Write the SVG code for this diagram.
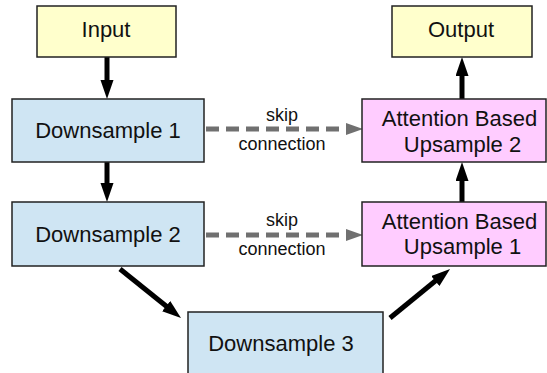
<svg xmlns="http://www.w3.org/2000/svg" width="547" height="373" viewBox="0 0 547 373">
<defs>
<style>
.box{stroke:#222;stroke-width:1.5}
.io{fill:#FFFFCC}
.down{fill:#CFE5F3}
.up{fill:#FFCCFF}
text{font-family:"Liberation Sans",Arial,sans-serif;fill:#111}
.t{font-size:22px;text-anchor:middle}
.l{font-size:18px;text-anchor:middle}
.arr{stroke:#000;stroke-width:5;fill:none;marker-end:url(#ah)}
.skip{stroke:#707070;stroke-width:5;fill:none;stroke-dasharray:13 7;marker-end:url(#gh)}
</style>
<marker id="ah" markerUnits="userSpaceOnUse" markerWidth="20" markerHeight="14" refX="9" refY="6.5" orient="auto">
<path d="M0,0 L19,6.5 L0,13 Z" fill="#000"/>
</marker>
<marker id="gh" markerUnits="userSpaceOnUse" markerWidth="18" markerHeight="13" refX="8" refY="6" orient="auto">
<path d="M0,0 L17,6 L0,12 Z" fill="#707070"/>
</marker>
</defs>
<g id="connectors">
<line class="arr" x1="107" y1="57" x2="107" y2="89"/>
<line class="arr" x1="107" y1="162" x2="107" y2="192"/>
<line class="arr" x1="120" y1="269" x2="173.2" y2="311.7"/>
<line class="arr" x1="390" y1="318" x2="442.3" y2="275.3"/>
<line class="arr" x1="462" y1="202" x2="462" y2="172"/>
<line class="arr" x1="462" y1="99" x2="462" y2="67"/>
<line class="skip" x1="206" y1="129" x2="354" y2="129"/>
<line class="skip" x1="206" y1="235" x2="354" y2="235"/>
<text class="l" x="282" y="121">skip</text>
<text class="l" x="282" y="150">connection</text>
<text class="l" x="282" y="226">skip</text>
<text class="l" x="282" y="255">connection</text>
</g>
<g id="input">
<rect class="box io" x="37" y="6" width="139" height="51"/>
<text class="t" x="106" y="37">Input</text>
</g>
<g id="output">
<rect class="box io" x="392" y="6" width="140" height="51"/>
<text class="t" x="461" y="37">Output</text>
</g>
<g id="downsample1">
<rect class="box down" x="12" y="99" width="192" height="63"/>
<text class="t" x="108" y="138">Downsample 1</text>
</g>
<g id="downsample2">
<rect class="box down" x="12" y="202" width="192" height="64"/>
<text class="t" x="108" y="242">Downsample 2</text>
</g>
<g id="downsample3">
<rect class="box down" x="188" y="312" width="195" height="70"/>
<text class="t" x="281" y="351">Downsample 3</text>
</g>
<g id="upsample2">
<rect class="box up" x="362" y="99" width="184" height="63"/>
<text class="t" x="459.5" y="126">Attention Based</text>
<text class="t" x="462.5" y="152">Upsample 2</text>
</g>
<g id="upsample1">
<rect class="box up" x="362" y="202" width="184" height="64"/>
<text class="t" x="459.5" y="229">Attention Based</text>
<text class="t" x="462.5" y="254">Upsample 1</text>
</g>
</svg>
